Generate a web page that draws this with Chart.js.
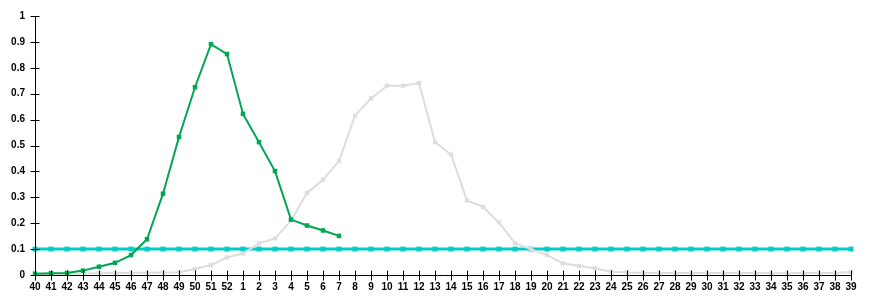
<!DOCTYPE html>
<html>
<head>
<meta charset="utf-8">
<script src="https://cdn.jsdelivr.net/npm/chart.js@4"></script>
<style>
html,body{margin:0;padding:0;background:#fff;}
canvas{display:block;}
</style>
</head>
<body>
<canvas id="c" width="870" height="300"></canvas>
<script>
const weeks = ['40','41','42','43','44','45','46','47','48','49','50','51','52',
  '1','2','3','4','5','6','7','8','9','10','11','12','13','14','15','16','17','18','19',
  '20','21','22','23','24','25','26','27','28','29','30','31','32','33','34','35','36','37','38','39'];

const currentSeason = [0.005,0.007,0.008,0.017,0.032,0.047,0.077,0.138,0.314,0.533,0.725,0.891,0.853,
  0.622,0.513,0.401,0.214,0.191,0.172,0.151,
  null,null,null,null,null,null,null,null,null,null,null,null,null,null,null,null,null,null,null,null,
  null,null,null,null,null,null,null,null,null,null,null,null];

const previousSeason = [0.004,0.004,0.005,0.006,0.007,0.008,0.009,0.009,0.010,0.011,0.023,0.038,0.068,
  0.083,0.122,0.141,0.210,0.317,0.368,0.440,0.615,0.682,0.731,0.731,0.741,0.513,0.465,0.288,0.263,0.203,0.122,0.100,
  0.077,0.045,0.035,0.026,0.013,0.010,0.009,0.008,0.008,0.008,0.008,0.008,0.008,0.008,0.007,0.007,0.008,0.008,0.008,0.012];

const threshold = [0.1,0.1,0.1,0.1,0.1,0.1,0.1,0.1,0.1,0.1,0.1,0.1,0.1,
  0.1,0.1,0.1,0.1,0.1,0.1,0.1,0.1,0.1,0.1,0.1,0.1,0.1,0.1,0.1,0.1,0.1,0.1,0.1,
  0.1,0.1,0.1,0.1,0.1,0.1,0.1,0.1,0.1,0.1,0.1,0.1,0.1,0.1,0.1,0.1,0.1,0.1,0.1,0.1];

const yTickLabels = ['0','0.1','0.2','0.3','0.4','0.5','0.6','0.7','0.8','0.9','1'];

const FONT = {family: "'Liberation Sans', Arial, sans-serif", size: 10, weight: 'bold'};

const axisPlugin = {
  id: 'axisTicks',
  afterDatasetsDraw(chart) {
    const ctx = chart.ctx;
    const xs = chart.scales.x, ys = chart.scales.y;
    const ca = chart.chartArea;
    ctx.save();
    ctx.strokeStyle = '#000';
    ctx.lineWidth = 1;
    ctx.beginPath();
    const ax = Math.round(ca.left) + 0.5;
    const ay = Math.round(ca.bottom) + 0.5;
    ctx.moveTo(ax, Math.round(ca.top));
    ctx.lineTo(ax, ay);
    ctx.lineTo(Math.round(ca.right) + 1, ay);
    ys.ticks.forEach((t, i) => {
      const y = Math.round(ys.getPixelForTick(i)) + 0.5;
      ctx.moveTo(ax - 5, y);
      ctx.lineTo(ax + 4, y);
    });
    xs.ticks.forEach((t, i) => {
      const x = Math.round(xs.getPixelForTick(i)) + 0.5;
      ctx.moveTo(x, ay - 5);
      ctx.lineTo(x, ay + 5);
    });
    ctx.stroke();
    ctx.restore();
  }
};

new Chart(document.getElementById('c'), {
  type: 'line',
  data: {
    labels: weeks,
    datasets: [
      {
        data: currentSeason,
        borderColor: '#00A651',
        backgroundColor: '#00A651',
        borderWidth: 2,
        pointStyle: 'rect',
        pointRadius: 3.2,
        pointBorderWidth: 0,
        tension: 0,
        spanGaps: false
      },
      {
        data: previousSeason,
        borderColor: '#DDDDDD',
        backgroundColor: '#DDDDDD',
        borderWidth: 2,
        pointStyle: 'rect',
        pointRadius: 3,
        pointBorderWidth: 0,
        tension: 0
      },
      {
        data: threshold,
        borderColor: '#00CCCC',
        backgroundColor: '#00CCCC',
        borderWidth: 3,
        pointStyle: 'rect',
        pointRadius: 3.5,
        pointBorderWidth: 0,
        tension: 0
      }
    ]
  },
  options: {
    responsive: false,
    animation: false,
    devicePixelRatio: 1,
    layout: {padding: {left: 0, right: 19, top: 15, bottom: 0}},
    plugins: {legend: {display: false}, tooltip: {enabled: false}},
    scales: {
      x: {
        offset: false,
        grid: {display: false, drawTicks: false},
        border: {display: false},
        ticks: {
          color: '#000',
          font: FONT,
          maxRotation: 0,
          minRotation: 0,
          autoSkip: false,
          padding: 6
        },
        afterFit(s) { s.height = 25; }
      },
      y: {
        min: 0,
        max: 1,
        grid: {display: false, drawTicks: false},
        border: {display: false},
        ticks: {
          color: '#000',
          font: FONT,
          stepSize: 0.1,
          padding: 10,
          callback: (v, i) => yTickLabels[i]
        },
        afterFit(s) { s.width = 35; }
      }
    }
  },
  plugins: [axisPlugin]
});
</script>
</body>
</html>
